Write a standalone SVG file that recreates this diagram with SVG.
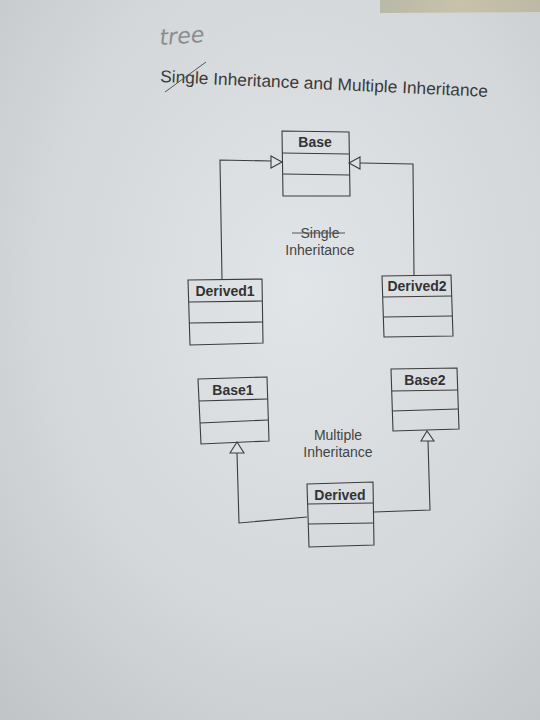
<svg xmlns="http://www.w3.org/2000/svg" width="540" height="720" viewBox="0 0 540 720">
<defs>
<radialGradient id="paper" cx="0.55" cy="0.4" r="0.8">
<stop offset="0" stop-color="#e2e5e8"/>
<stop offset="0.6" stop-color="#d4d7da"/>
<stop offset="1" stop-color="#c2c5c8"/>
</radialGradient>
<linearGradient id="corner" x1="0" y1="0" x2="1" y2="0">
<stop offset="0" stop-color="#b9b9a8"/>
<stop offset="0.5" stop-color="#c8c2a8"/>
<stop offset="1" stop-color="#bdb9a4"/>
</linearGradient>
</defs>
<style>
.box{fill:none;stroke:#3c3c3c;stroke-width:1.1}
.div{stroke:#3c3c3c;stroke-width:1.1}
.cls{font-family:"Liberation Sans",Arial,sans-serif;font-weight:bold;font-size:14px;fill:#333;text-anchor:middle}
.lbl{font-family:"Liberation Sans",Arial,sans-serif;font-size:14px;fill:#444;text-anchor:middle}
.conn{fill:none;stroke:#3c3c3c;stroke-width:1.1}
.tri{fill:#dfe2e5;stroke:#3c3c3c;stroke-width:1.1}
</style>
<rect width="540" height="720" fill="url(#paper)"/>
<polygon points="380,0 540,0 540,12 380,13" fill="url(#corner)"/>
<text x="160" y="45" font-family="DejaVu Sans,sans-serif" font-size="22" fill="#8a8d90" font-style="italic" transform="rotate(-4 160 45)">tree</text>
<g transform="rotate(2.6 160 82)">
<text x="160" y="82" font-family="Liberation Sans,Arial,sans-serif" font-size="17" fill="#3a3a3a" textLength="328" lengthAdjust="spacingAndGlyphs">Single Inheritance and Multiple Inheritance</text>
</g>
<line x1="165" y1="92" x2="206" y2="62" stroke="#555" stroke-width="1"/>
<text x="320" y="238" class="lbl" fill="#555">Single</text>
<line x1="292" y1="233" x2="345" y2="233" stroke="#555" stroke-width="1"/>
<text x="320" y="255" class="lbl">Inheritance</text>
<text x="338" y="440" class="lbl">Multiple</text>
<text x="338" y="457" class="lbl">Inheritance</text>
<g id="connectors">
<polyline class="conn" points="222,279 220,160 271,161"/>
<polygon class="tri" points="271,156 282,162 271,168"/>
<polyline class="conn" points="414,275 413,164 360,163"/>
<polygon class="tri" points="360,157 349,163 360,169"/>
<polyline class="conn" points="307,517 239,523 237,453"/>
<polygon class="tri" points="230,453 237,442 244,453"/>
<polyline class="conn" points="374,512 430,510 428,441"/>
<polygon class="tri" points="421,441 427,431 434,441"/>
</g>
<g id="base">
<polygon class="box" points="282,131 349,132 350,196 283,196"/>
<line class="div" x1="282" y1="153" x2="349" y2="154"/>
<line class="div" x1="283" y1="174" x2="350" y2="175"/>
<text class="cls" x="315" y="147">Base</text>
</g>
<g id="derived1">
<polygon class="box" points="188,280 262,279 263,343 190,345"/>
<line class="div" x1="189" y1="302" x2="262" y2="301"/>
<line class="div" x1="189" y1="323" x2="263" y2="322"/>
<text class="cls" x="225" y="296">Derived1</text>
</g>
<g id="derived2">
<polygon class="box" points="382,276 451,275 453,336 384,337"/>
<line class="div" x1="383" y1="297" x2="452" y2="296"/>
<line class="div" x1="383" y1="317" x2="452" y2="316"/>
<text class="cls" x="417" y="291">Derived2</text>
</g>
<g id="base1">
<polygon class="box" points="198,379 267,377 269,441 201,444"/>
<line class="div" x1="199" y1="401" x2="268" y2="399"/>
<line class="div" x1="200" y1="423" x2="268" y2="420"/>
<text class="cls" x="233" y="395">Base1</text>
</g>
<g id="base2">
<polygon class="box" points="391,369 457,368 459,429 393,431"/>
<line class="div" x1="392" y1="391" x2="458" y2="390"/>
<line class="div" x1="392" y1="411" x2="458" y2="409"/>
<text class="cls" x="425" y="385">Base2</text>
</g>
<g id="derived">
<polygon class="box" points="307,484 373,482 374,545 309,547"/>
<line class="div" x1="308" y1="504" x2="373" y2="503"/>
<line class="div" x1="308" y1="524" x2="374" y2="523"/>
<text class="cls" x="340" y="500">Derived</text>
</g>
</svg>
